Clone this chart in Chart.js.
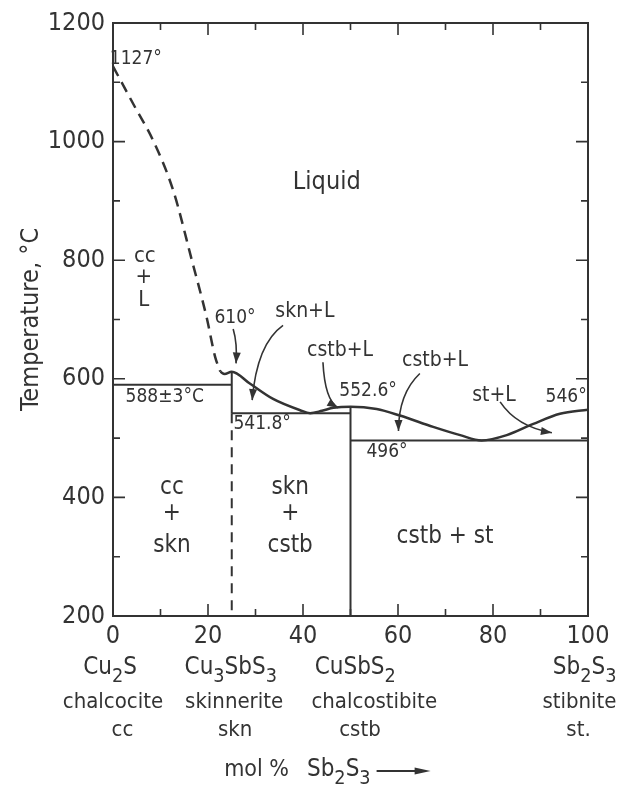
<!DOCTYPE html>
<html>
<head>
<meta charset="utf-8">
<script src="https://cdn.jsdelivr.net/npm/chart.js@4.4.0/dist/chart.umd.min.js"></script>
<style>
  html, body { margin: 0; padding: 0; background: #fff; }
</style>
</head>
<body>
<canvas id="diagrama" width="620" height="786"></canvas>
<script>
var fonte = "'DejaVu Sans Condensed', 'Liberation Sans Narrow', 'DejaVu Sans', sans-serif";
var cor = "#333";

// liquidus, mol % Sb2S3 vs °C
var liqTracejadoX = [0, 4.3, 8.5, 12.7, 16.6, 19.7, 21.5, 22.6];
var liqTracejadoT = [1127, 1063, 1001, 917, 800, 704, 637, 612];
var liqX = [22.6, 23.5, 25, 28.8, 33.7, 39.4, 41.5, 44, 46.4, 50, 55.5, 60.4, 67.4, 73.1, 77.6, 82.9, 88.5, 94.1, 100];
var liqT = [612, 608, 612, 592, 566, 547, 542, 546, 551, 553, 549, 538, 519, 505, 496, 505, 524, 541, 548];

// horizontal invariants
var invIni = [0, 25, 50];
var invFim = [25, 50, 100];
var invT = [590, 541.8, 496];

// compounds (vertical lines)
var sknX = 25;
var sknTopo = 612;
var sknInv = 541.8;
var cstbX = 50;
var cstbTopo = 553;

var yTicks = [200, 400, 600, 800, 1000, 1200];
var xTicks = [0, 20, 40, 60, 80, 100];

function pts(xs, ts) {
  var r = [];
  for (var i = 0; i < xs.length; i++) r.push({ x: xs[i], y: ts[i] });
  return r;
}

var datasets = [
  { data: pts(liqTracejadoX, liqTracejadoT), borderDash: [11, 7], borderWidth: 2.5, cubicInterpolationMode: "monotone" },
  { data: pts(liqX, liqT), borderWidth: 2.5, cubicInterpolationMode: "monotone" },
  { data: pts([sknX, sknX], [sknTopo, sknInv]), borderWidth: 2 },
  { data: pts([sknX, sknX], [sknInv, 200]), borderDash: [10, 7], borderWidth: 2 },
  { data: pts([cstbX, cstbX], [cstbTopo, 200]), borderWidth: 2 },
];
for (var i = 0; i < invT.length; i++) {
  datasets.push({ data: pts([invIni[i], invFim[i]], [invT[i], invT[i]]), borderWidth: 2 });
}
datasets.forEach(function (d) {
  d.showLine = true;
  d.pointRadius = 0;
  d.borderColor = cor;
  d.fill = false;
});

// labels inside the plot, in data units
var rotulos = [
  { t: "1127°", x: 4.8, T: 1139, s: 19 },
  { t: "Liquid", x: 45, T: 931, s: 25 },
  { t: "cc", x: 6.7, T: 806, s: 22 },
  { t: "+", x: 6.5, T: 771, s: 22 },
  { t: "L", x: 6.5, T: 733, s: 22 },
  { t: "610°", x: 25.7, T: 703, s: 19 },
  { t: "skn+L", x: 40.4, T: 713, s: 21 },
  { t: "cstb+L", x: 47.8, T: 648, s: 21 },
  { t: "552.6°", x: 53.7, T: 580, s: 19 },
  { t: "cstb+L", x: 67.8, T: 631, s: 21 },
  { t: "st+L", x: 80.2, T: 572, s: 21 },
  { t: "546°", x: 95.4, T: 569, s: 19 },
  { t: "541.8°", x: 31.4, T: 523, s: 19 },
  { t: "496°", x: 57.7, T: 476, s: 19 },
  { t: "588±3°C", x: 10.9, T: 570, s: 19 },
  { t: "cc", x: 12.4, T: 417, s: 24 },
  { t: "+", x: 12.4, T: 373, s: 24 },
  { t: "skn", x: 12.4, T: 318, s: 24 },
  { t: "skn", x: 37.3, T: 417, s: 24 },
  { t: "+", x: 37.3, T: 373, s: 24 },
  { t: "cstb", x: 37.3, T: 318, s: 24 },
  { t: "cstb + st", x: 69.9, T: 333, s: 24 },
];

// arrows: start, control, tip
var setas = [
  [25.3, 684, 26.2, 660, 25.9, 626],
  [35.8, 690, 30.3, 659, 29.3, 564],
  [44.2, 628, 44.6, 564, 47.4, 551],
  [64.6, 609, 60.1, 575, 60.1, 512],
  [81.5, 561, 85, 519, 92.4, 509],
];

// compound names under the axis: text, mol % (centre, or right edge if r), pixel row
var baixo = [
  { t: "Cu2S", x: -0.6, y: 668, f: true },
  { t: "Cu3SbS3", x: 24.8, y: 668, f: true },
  { t: "CuSbS2", x: 51, y: 668, f: true },
  { t: "Sb2S3", x: 106, y: 668, f: true, r: true },
  { t: "chalcocite", x: 0, y: 702 },
  { t: "skinnerite", x: 25.5, y: 702 },
  { t: "chalcostibite", x: 55, y: 702 },
  { t: "stibnite", x: 106, y: 702, r: true },
  { t: "cc", x: 2, y: 730 },
  { t: "skn", x: 25.7, y: 730 },
  { t: "cstb", x: 52, y: 730 },
  { t: "st.", x: 98, y: 730 },
];

function larguraFormula(ctx, texto, tam) {
  var w = 0;
  for (var i = 0; i < texto.length; i++) {
    var c = texto[i];
    var sub = c >= "0" && c <= "9";
    ctx.font = (sub ? tam * 0.82 : tam) + "px " + fonte;
    w += ctx.measureText(c).width;
  }
  return w;
}

function escreverFormula(ctx, texto, x, y, tam) {
  for (var i = 0; i < texto.length; i++) {
    var c = texto[i];
    var sub = c >= "0" && c <= "9";
    ctx.font = (sub ? tam * 0.82 : tam) + "px " + fonte;
    ctx.fillText(c, x, sub ? y + tam * 0.36 : y);
    x += ctx.measureText(c).width;
  }
  return x;
}

function pontaSeta(ctx, x0, y0, x1, y1, comp, larg) {
  var ang = Math.atan2(y1 - y0, x1 - x0);
  ctx.beginPath();
  ctx.moveTo(x1, y1);
  ctx.lineTo(x1 - comp * Math.cos(ang) + larg * Math.sin(ang), y1 - comp * Math.sin(ang) - larg * Math.cos(ang));
  ctx.lineTo(x1 - comp * Math.cos(ang) - larg * Math.sin(ang), y1 - comp * Math.sin(ang) + larg * Math.cos(ang));
  ctx.closePath();
  ctx.fill();
}

var desenhos = {
  id: "desenhos",
  afterDraw: function (chart) {
    var ctx = chart.ctx;
    var a = chart.chartArea;
    var sx = chart.scales.x;
    var sy = chart.scales.y;
    ctx.save();
    ctx.strokeStyle = cor;
    ctx.fillStyle = cor;

    // top and right frame
    ctx.lineWidth = 2;
    ctx.beginPath();
    ctx.moveTo(a.left, a.top);
    ctx.lineTo(a.right, a.top);
    ctx.lineTo(a.right, a.bottom);
    ctx.stroke();

    // inward ticks
    ctx.lineWidth = 1.6;
    sy.ticks.forEach(function (t) {
      if (t.value <= 200 || t.value >= 1200) return;
      var y = sy.getPixelForValue(t.value);
      var len = t.value % 200 == 0 ? 12 : 7;
      ctx.beginPath();
      ctx.moveTo(a.left, y); ctx.lineTo(a.left + len, y);
      ctx.moveTo(a.right, y); ctx.lineTo(a.right - len, y);
      ctx.stroke();
    });
    sx.ticks.forEach(function (t) {
      if (t.value <= 0 || t.value >= 100) return;
      var x = sx.getPixelForValue(t.value);
      var len = t.value % 20 == 0 ? 12 : 7;
      ctx.beginPath();
      ctx.moveTo(x, a.bottom); ctx.lineTo(x, a.bottom - len);
      ctx.moveTo(x, a.top); ctx.lineTo(x, a.top + len);
      ctx.stroke();
    });

    // labels
    ctx.textAlign = "center";
    ctx.textBaseline = "middle";
    rotulos.forEach(function (r) {
      ctx.font = r.s + "px " + fonte;
      ctx.fillText(r.t, sx.getPixelForValue(r.x), sy.getPixelForValue(r.T));
    });

    // arrows
    ctx.lineWidth = 1.6;
    setas.forEach(function (s) {
      var x0 = sx.getPixelForValue(s[0]), y0 = sy.getPixelForValue(s[1]);
      var xc = sx.getPixelForValue(s[2]), yc = sy.getPixelForValue(s[3]);
      var x1 = sx.getPixelForValue(s[4]), y1 = sy.getPixelForValue(s[5]);
      ctx.beginPath();
      ctx.moveTo(x0, y0);
      ctx.quadraticCurveTo(xc, yc, x1, y1);
      ctx.stroke();
      pontaSeta(ctx, xc, yc, x1, y1, 11, 4);
    });

    // names under the axis
    ctx.textAlign = "left";
    baixo.forEach(function (b) {
      var px = sx.getPixelForValue(b.x);
      var w;
      if (b.f) {
        w = larguraFormula(ctx, b.t, 24);
        escreverFormula(ctx, b.t, b.r ? px - w : px - w / 2, b.y, 24);
      } else {
        ctx.font = "22px " + fonte;
        w = ctx.measureText(b.t).width;
        ctx.fillText(b.t, b.r ? px - w : px - w / 2, b.y);
      }
    });

    // x axis title: mol % Sb2S3 ->
    var tx = sx.getPixelForValue(23.4);
    var ty = 770;
    ctx.font = "23px " + fonte;
    ctx.fillText("mol %", tx, ty);
    var xf = escreverFormula(ctx, "Sb2S3", tx + ctx.measureText("mol %").width + 18, ty, 24);
    ctx.lineWidth = 1.8;
    ctx.beginPath();
    ctx.moveTo(xf + 6, ty + 1);
    ctx.lineTo(xf + 52, ty + 1);
    ctx.stroke();
    pontaSeta(ctx, xf + 40, ty + 1, xf + 60, ty + 1, 16, 3.5);
    ctx.restore();
  },
};

var config = {
  type: "scatter",
  data: { datasets: datasets },
  options: {
    responsive: false,
    animation: false,
    layout: { padding: { top: 22, right: 32, left: 0, bottom: 0 } },
    plugins: { legend: { display: false }, tooltip: { enabled: false } },
    scales: {
      x: {
        type: "linear",
        min: 0,
        max: 100,
        afterFit: function (s) { s.height = 170; },
        afterBuildTicks: function (s) {
          s.ticks = [];
          for (var v = 0; v <= 100; v += 10) s.ticks.push({ value: v });
        },
        grid: { display: false, drawTicks: false },
        border: { display: true, color: cor, width: 2 },
        ticks: {
          padding: 5,
          color: cor,
          font: { family: fonte, size: 25 },
          maxRotation: 0,
          autoSkip: false,
          callback: function (v) { return xTicks.indexOf(v) >= 0 ? String(v) : ""; },
        },
      },
      y: {
        type: "linear",
        min: 200,
        max: 1200,
        afterFit: function (s) { s.width = 113; },
        afterBuildTicks: function (s) {
          s.ticks = [];
          for (var v = 200; v <= 1200; v += 100) s.ticks.push({ value: v });
        },
        grid: { display: false, drawTicks: false },
        border: { display: true, color: cor, width: 2 },
        title: {
          display: true,
          text: "Temperature, °C",
          color: cor,
          font: { family: fonte, size: 25 },
          padding: { top: 16, bottom: 0 },
        },
        ticks: {
          padding: 8,
          color: cor,
          font: { family: fonte, size: 25 },
          autoSkip: false,
          callback: function (v) { return yTicks.indexOf(v) >= 0 ? String(v) : ""; },
        },
      },
    },
  },
  plugins: [desenhos],
};

var grafico = new Chart(document.getElementById("diagrama"), config);
</script>
</body>
</html>
